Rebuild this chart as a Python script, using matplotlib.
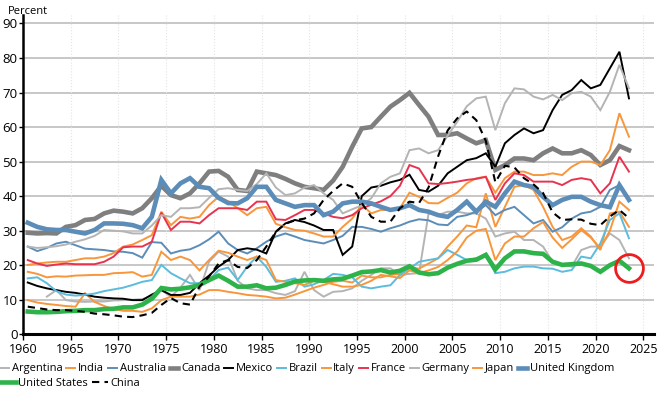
import numpy as np
import matplotlib
matplotlib.use("Agg")
import matplotlib.pyplot as plt

plt.rcParams['font.family'] = ['Open Sans', 'DejaVu Sans']

nan = np.nan
years = np.arange(1960, 2024)

# trade share of GDP, percent
argentina = [nan, nan, 10.9, 12.8, 9.9, 9.5, 9.4, 9.5, 9.5, 9.8,
             9.9, 10.0, 10.2, 11.0, 12.8, 10.9, 13.5, 17.2, 12.8, 21.0,
             23.9, 22.5, 15.5, 13.3, 12.8, 12.8, 11.9, 11.4, 12.5, 18.1,
             12.8, 10.9, 12.3, 12.5, 13.3, 15.5, 17.2, 19.1, 19.1, 17.2,
             17.5, 17.7, 35.0, 34.5, 35.5, 35.5, 35.0, 35.0, 33.5, 28.3,
             29.2, 29.7, 27.3, 27.3, 25.4, 21.0, 20.1, 19.6, 24.4, 25.4,
             25.4, 29.2, 27.3, 22.0]
india = [9.9, 9.2, 8.8, 8.5, 8.2, 8.0, 11.9, 9.4, 8.2, 7.3,
         6.8, 6.8, 6.5, 7.5, 9.9, 10.9, 10.9, 10.9, 11.5, 12.8,
         12.8, 12.3, 11.9, 11.4, 11.2, 10.9, 10.4, 10.6, 11.5, 12.5,
         13.5, 14.3, 15.2, 15.5, 15.0, 17.0, 16.5, 16.5, 17.2, 17.5,
         19.5, 19.0, 20.5, 22.0, 25.4, 28.3, 31.5, 31.0, 40.8, 31.1,
         36.9, 42.7, 43.2, 41.8, 36.9, 31.1, 27.3, 28.3, 30.7, 28.3,
         24.4, 35.0, 35.5, 31.1]
australia = [25.4, 24.1, 25.0, 26.3, 26.8, 25.8, 24.8, 24.6, 24.4, 24.0,
             23.9, 23.5, 22.2, 26.7, 26.5, 23.4, 24.2, 24.6, 25.8, 27.5,
             29.7, 26.3, 24.4, 23.4, 24.9, 26.8, 28.3, 29.2, 28.3, 27.3,
             26.8, 26.3, 27.3, 28.5, 31.1, 31.1, 30.5, 29.7, 30.7, 31.5,
             32.6, 33.3, 33.0, 31.8, 31.6, 34.0, 34.5, 35.5, 37.4, 34.5,
             36.0, 36.9, 34.5, 32.1, 33.1, 29.7, 31.0, 33.5, 35.0, 35.5,
             36.9, 41.8, 43.2, 39.4]
canada = [29.4, 29.2, 29.3, 29.2, 31.1, 31.6, 33.1, 33.4, 35.0, 35.8,
          35.5, 35.0, 36.5, 39.4, 43.0, 40.3, 39.4, 40.8, 43.7, 47.1,
          47.3, 45.6, 41.8, 41.5, 47.1, 46.6, 46.1, 45.0, 43.7, 42.7,
          42.3, 41.8, 44.5, 48.5, 54.3, 59.6, 60.0, 63.0, 65.9, 67.8,
          69.9, 66.4, 63.0, 57.7, 57.7, 58.2, 56.7, 55.3, 56.2, 47.6,
          49.0, 50.9, 50.9, 50.4, 52.4, 53.8, 52.4, 52.4, 53.3, 51.9,
          49.0, 50.4, 54.5, 53.3]
mexico = [15.0, 14.0, 13.3, 12.8, 12.3, 12.0, 11.5, 10.9, 10.6, 10.4,
          10.3, 9.9, 9.9, 11.5, 12.8, 11.4, 11.4, 12.0, 14.8, 17.0,
          19.6, 21.5, 24.4, 24.9, 24.5, 23.4, 29.7, 32.1, 33.1, 32.5,
          31.5, 30.2, 30.2, 23.0, 25.4, 40.0, 42.5, 43.0, 44.0, 44.7,
          46.2, 41.8, 41.3, 43.0, 46.6, 48.5, 50.4, 51.0, 52.4, 48.5,
          55.3, 57.7, 59.6, 58.2, 59.1, 64.9, 69.3, 70.7, 73.6, 71.2,
          72.2, 77.0, 81.8, 68.3]
brazil = [16.2, 16.5, 14.8, 12.5, 11.5, 11.2, 11.4, 11.8, 12.5, 13.0,
          13.5, 14.3, 15.2, 15.7, 20.1, 17.7, 16.2, 14.8, 14.8, 15.7,
          18.6, 19.3, 15.7, 19.6, 22.5, 19.5, 15.2, 15.5, 16.2, 13.8,
          14.5, 15.7, 17.5, 17.2, 16.5, 13.8, 13.3, 13.8, 14.2, 17.2,
          19.0, 21.0, 21.5, 22.0, 24.4, 23.0, 21.5, 22.0, 22.8, 17.7,
          18.1, 19.1, 19.6, 19.6, 19.1, 19.0, 18.1, 18.6, 22.5, 22.0,
          26.3, 33.1, 35.0, 27.8]
italy = [20.1, 20.5, 20.8, 21.0, 21.0, 21.5, 22.0, 22.0, 22.5, 23.5,
         25.4, 26.0, 27.3, 28.7, 35.5, 31.6, 34.0, 33.5, 34.0, 37.4,
         39.8, 38.5, 36.5, 34.5, 36.5, 36.9, 32.0, 31.0, 30.2, 30.0,
         29.2, 28.3, 28.3, 31.1, 33.5, 37.5, 35.0, 36.0, 36.0, 36.5,
         41.0, 39.8, 38.0, 37.9, 39.5, 41.0, 43.7, 45.2, 45.6, 41.0,
         45.2, 47.1, 47.1, 46.1, 46.1, 46.6, 46.1, 48.5, 50.0, 50.0,
         49.0, 53.3, 64.0, 57.2]
france = [21.5, 20.5, 19.8, 20.2, 20.5, 20.3, 20.3, 20.3, 21.0, 22.5,
          25.2, 25.4, 25.4, 26.8, 35.2, 30.2, 32.6, 32.6, 32.1, 34.5,
          36.5, 36.5, 36.5, 36.0, 38.4, 38.4, 33.3, 33.1, 34.5, 36.0,
          36.0, 35.0, 34.0, 33.6, 34.5, 36.5, 37.5, 38.5, 40.0, 43.0,
          49.0, 48.0, 43.7, 43.5, 43.8, 44.2, 44.7, 45.0, 45.6, 38.9,
          43.7, 46.6, 46.1, 44.2, 44.2, 44.2, 43.2, 44.7, 45.2, 44.7,
          40.8, 43.7, 51.4, 47.1]
germany = [25.4, 25.0, 25.2, 25.5, 26.0, 26.8, 27.5, 28.5, 30.2, 30.0,
           29.8, 29.2, 29.2, 31.5, 34.5, 34.0, 36.5, 36.5, 36.8, 39.5,
           42.0, 42.3, 41.8, 41.5, 43.5, 46.6, 42.5, 40.3, 40.8, 42.5,
           43.2, 40.8, 38.9, 35.0, 36.2, 37.3, 39.4, 43.7, 45.6, 46.6,
           53.3, 53.8, 52.4, 53.3, 57.5, 61.5, 66.0, 68.3, 68.8, 59.1,
           66.9, 71.2, 70.9, 68.8, 68.0, 69.3, 67.8, 69.8, 70.2, 68.8,
           64.9, 70.2, 78.0, 71.2]
japan = [18.1, 17.5, 16.5, 16.8, 16.7, 17.0, 17.1, 17.2, 17.2, 17.7,
         17.8, 18.0, 16.7, 17.2, 23.9, 21.5, 22.5, 21.5, 18.5, 21.5,
         24.2, 23.6, 22.5, 21.5, 22.5, 21.5, 15.7, 15.2, 14.8, 14.3,
         15.5, 15.2, 14.5, 13.8, 13.8, 14.3, 15.5, 17.2, 16.8, 16.3,
         18.5, 17.7, 18.5, 19.5, 21.5, 24.0, 28.0, 30.0, 30.5, 21.5,
         26.3, 28.3, 28.3, 30.7, 32.5, 28.0, 25.0, 27.5, 30.2, 28.0,
         24.9, 30.0, 38.4, 36.0]
uk = [32.3, 31.1, 30.4, 30.2, 30.2, 29.7, 29.2, 30.2, 32.1, 32.1,
      32.0, 31.6, 30.7, 34.0, 44.7, 40.8, 43.7, 45.2, 42.7, 42.3,
      39.5, 38.0, 37.9, 39.4, 42.7, 42.7, 38.9, 37.9, 36.9, 37.4,
      37.4, 34.5, 35.5, 37.9, 38.4, 38.4, 37.9, 36.9, 36.0, 36.5,
      37.4, 36.0, 35.5, 34.5, 34.0, 36.0, 38.4, 35.5, 38.4, 36.9,
      40.8, 44.2, 43.2, 42.7, 39.8, 37.4, 38.9, 39.8, 39.8, 38.4,
      37.4, 36.8, 43.2, 38.9]
us = [6.6, 6.4, 6.4, 6.5, 6.7, 6.8, 7.0, 7.0, 7.3, 7.4,
      7.8, 7.8, 8.6, 10.3, 13.4, 13.0, 13.2, 13.6, 14.3, 15.7,
      17.0, 15.5, 13.8, 13.8, 14.2, 13.3, 13.5, 14.3, 15.3, 15.6,
      15.7, 15.5, 15.9, 16.1, 17.0, 18.0, 18.2, 18.6, 17.9, 18.4,
      19.7, 17.9, 17.4, 17.7, 19.3, 20.4, 21.3, 21.6, 23.0, 18.8,
      22.0, 24.0, 24.0, 23.5, 23.3, 21.0, 20.1, 20.3, 20.5, 19.8,
      18.1, 20.0, 21.3, 19.1]
china = [8.0, 7.6, 7.2, 7.0, 7.0, 6.8, 6.5, 6.0, 5.8, 5.5,
         5.1, 5.0, 5.5, 6.2, 8.5, 10.5, 9.0, 8.6, 13.8, 16.7,
         20.5, 21.5, 19.5, 19.2, 21.5, 25.4, 29.7, 32.0, 33.0, 33.5,
         35.0, 38.9, 41.5, 43.7, 42.7, 38.0, 34.0, 32.6, 32.6, 36.5,
         38.4, 38.0, 42.5, 51.5, 59.0, 62.5, 64.5, 62.0, 56.0, 44.0,
         48.8, 48.3, 45.2, 43.4, 40.9, 35.3, 33.1, 33.3, 33.2, 32.0,
         31.6, 34.1, 36.0, 33.6]

orange = '#f8963c'
ltgray = '#b4b4b4'
blue = '#5b8db8'
series = [
    ('Argentina', argentina, ltgray, 1.4, '-'),
    ('India', india, orange, 1.4, '-'),
    ('Australia', australia, blue, 1.4, '-'),
    ('Canada', canada, '#7f7f7f', 3.3, '-'),
    ('Mexico', mexico, 'black', 1.4, '-'),
    ('Brazil', brazil, '#5bbcdc', 1.4, '-'),
    ('Italy', italy, orange, 1.4, '-'),
    ('France', france, '#e8334f', 1.4, '-'),
    ('Germany', germany, ltgray, 1.4, '-'),
    ('Japan', japan, orange, 1.4, '-'),
    ('United Kingdom', uk, blue, 3.3, '-'),
    ('United States', us, '#2db34a', 3.3, '-'),
    ('China', china, 'black', 1.5, '--'),
]

fig = plt.figure(figsize=(6.64, 3.98), dpi=100)
ax = fig.add_axes([0.0346, 0.16, 0.950, 0.802])

xpos = years + 0.5
handles = []
for name, vals, col, lw, ls in series:
    ln, = ax.plot(xpos, vals, color=col, lw=lw, ls=ls, label=name,
                  solid_joinstyle='miter', dashes=(3.5, 2.5) if ls == '--' else (None, None))
    handles.append(ln)

# red circle around latest US value
ax.plot(xpos[-1], us[-1], marker='o', ms=20, mfc='none', mec='#ee1c1c', mew=2, zorder=10)

ax.set_xlim(1960, 2026.1)
ax.set_ylim(0, 92.4)
ax.set_xticks(range(1960, 2026, 5))
ax.set_yticks(range(0, 91, 10))
for y in range(10, 91, 10):
    ax.axhline(y, color='#c3c3c3', lw=1.3, zorder=0)
for x in range(1965, 2026, 5):
    ax.axvline(x, color='#e4e4e4', lw=0.8, ls=':', zorder=0)

for s in ['top', 'right']:
    ax.spines[s].set_visible(False)
ax.spines['left'].set_linewidth(1.8)
ax.spines['bottom'].set_linewidth(2.2)
ax.tick_params(axis='x', direction='out', length=4, width=1, labelsize=9, pad=2)
ax.tick_params(axis='y', direction='out', length=3, width=1, labelsize=9.5, pad=1)

fig.text(0.012, 0.965, 'Percent', fontsize=8)

leg_kw = dict(loc='center left', frameon=False, fontsize=8, handletextpad=0.25,
              columnspacing=0.35, borderpad=0, borderaxespad=0)
fig.legend(handles[:11], [s[0] for s in series[:11]], ncol=11,
           bbox_to_anchor=(0.0, 0.073), handlelength=0.8, **leg_kw)
fig.legend(handles[11:], [s[0] for s in series[11:]], ncol=2,
           bbox_to_anchor=(0.0, 0.037), handlelength=1.4, **leg_kw)

fig.savefig('out.png', dpi=100)
